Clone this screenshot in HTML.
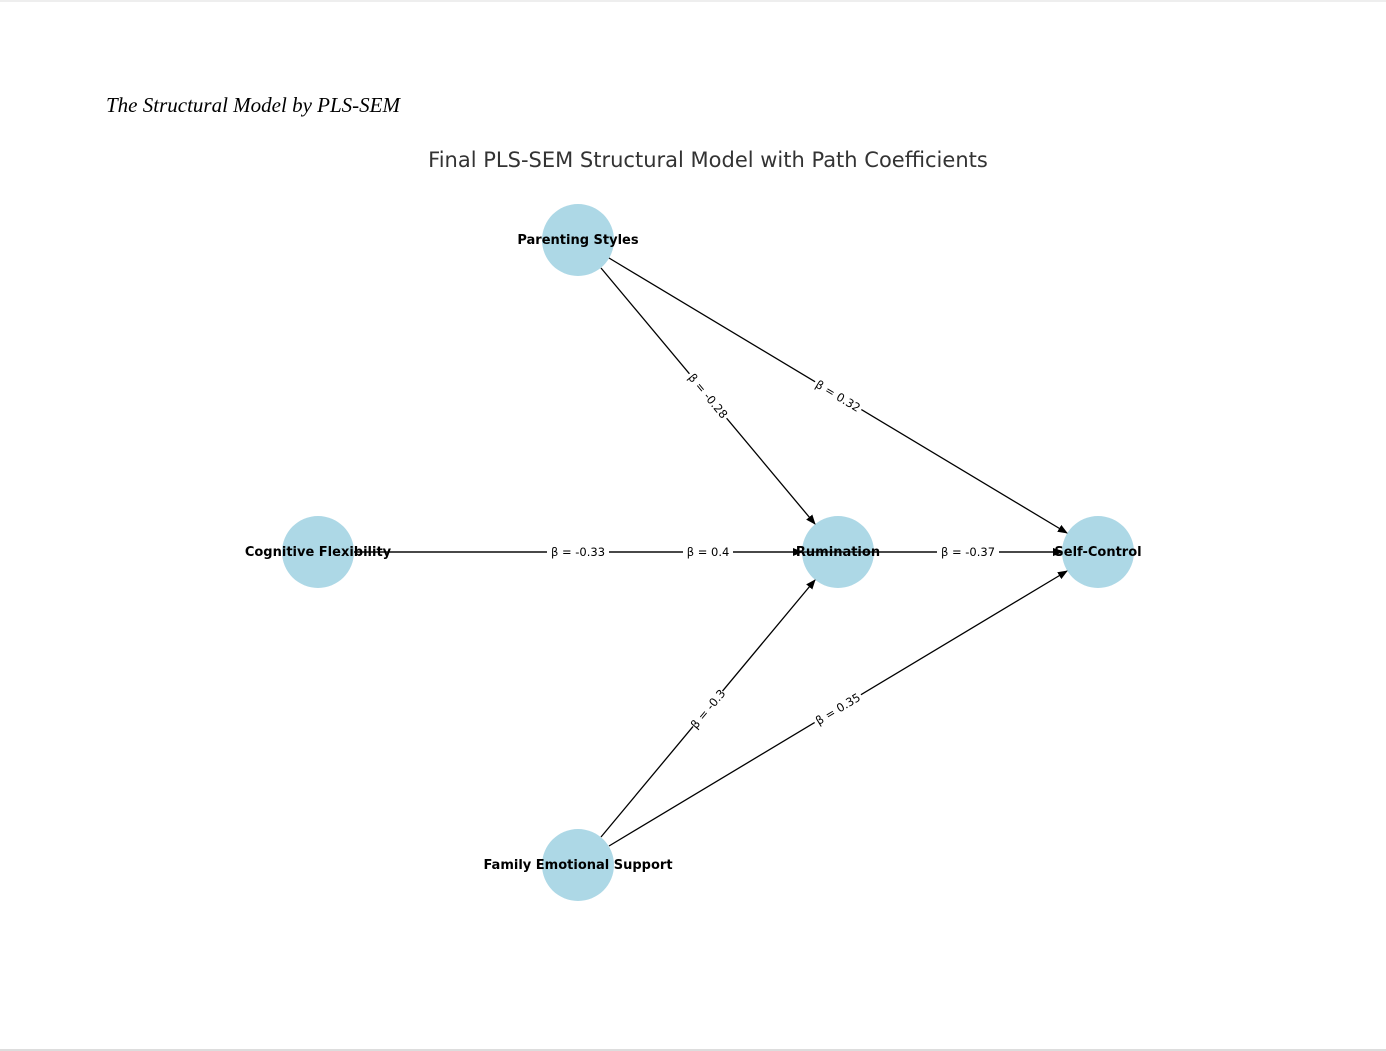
<!DOCTYPE html>
<html><head><meta charset="utf-8"><style>
html,body{margin:0;padding:0;background:#fff;}
body{width:1386px;height:1051px;overflow:hidden;position:relative;}
</style></head><body>
<svg width="1386" height="1051" xmlns="http://www.w3.org/2000/svg" style="position:absolute;left:0;top:0">
<defs><marker id="a" markerWidth="10" markerHeight="8" refX="9" refY="4" orient="auto" markerUnits="userSpaceOnUse"><path d="M0,0 L10,4 L0,8 Z" fill="#000"/></marker></defs>
<rect x="0" y="0" width="1386" height="2" fill="#eee"/>
<rect x="0" y="1049" width="1386" height="2" fill="#ddd"/>
<text x="106" y="112" font-family="Liberation Serif, serif" font-style="italic" font-size="21" fill="#000">The Structural Model by PLS-SEM</text>
<text x="708" y="167" text-anchor="middle" font-family="DejaVu Sans, sans-serif" font-size="21" fill="#333">Final PLS-SEM Structural Model with Path Coefficients</text>
<g fill="#add8e6">
<circle cx="578" cy="240" r="36"/><circle cx="318" cy="552" r="36"/><circle cx="838" cy="552" r="36"/><circle cx="1098" cy="552" r="36"/><circle cx="578" cy="865" r="36"/>
</g>
<g stroke="#000" stroke-width="1.3" marker-end="url(#a)">
<line x1="601" y1="268" x2="815" y2="524"/>
<line x1="609" y1="258" x2="1067" y2="533"/>
<line x1="601" y1="837" x2="815" y2="580"/>
<line x1="609" y1="846" x2="1067" y2="571"/>
<line x1="354" y1="552" x2="802" y2="552"/>
<line x1="354" y1="552" x2="1062" y2="552"/>
<line x1="874" y1="552" x2="1062" y2="552"/>
</g>
<g font-family="DejaVu Sans, sans-serif" font-size="11.5" fill="#000" text-anchor="middle">
<g transform="translate(708,396) rotate(50.2)"><rect x="-29" y="-8" width="58" height="15" fill="#fff"/><text y="4">β = -0.28</text></g>
<g transform="translate(838,396) rotate(31)"><rect x="-27" y="-8" width="54" height="15" fill="#fff"/><text y="4">β = 0.32</text></g>
<g transform="translate(708,709) rotate(-50.2)"><rect x="-23" y="-8" width="46" height="15" fill="#fff"/><text y="4">β = -0.3</text></g>
<g transform="translate(838,709) rotate(-31)"><rect x="-27" y="-8" width="54" height="15" fill="#fff"/><text y="4">β = 0.35</text></g>
<g transform="translate(578,552)"><rect x="-31" y="-8" width="62" height="15" fill="#fff"/><text y="4">β = -0.33</text></g>
<g transform="translate(708,552)"><rect x="-25" y="-8" width="50" height="15" fill="#fff"/><text y="4">β = 0.4</text></g>
<g transform="translate(968,552)"><rect x="-31" y="-8" width="62" height="15" fill="#fff"/><text y="4">β = -0.37</text></g>
</g>
<g font-family="DejaVu Sans, sans-serif" font-size="13" font-weight="bold" fill="#000" text-anchor="middle">
<text x="578" y="244">Parenting Styles</text>
<text x="318" y="556">Cognitive Flexibility</text>
<text x="838" y="556">Rumination</text>
<text x="1098" y="556">Self-Control</text>
<text x="578" y="869">Family Emotional Support</text>
</g>
</svg>
</body></html>
